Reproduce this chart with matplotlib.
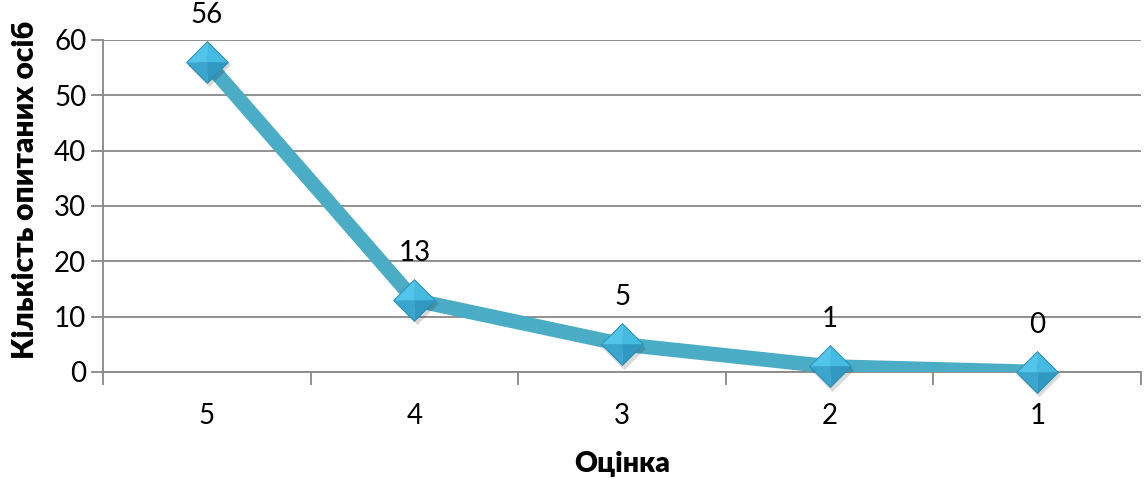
import matplotlib
matplotlib.use("Agg")
import matplotlib.pyplot as plt

categories = ["5", "4", "3", "2", "1"]
values = [56, 13, 5, 1, 0]
yticks = [0, 10, 20, 30, 40, 50, 60]
xlabel = "Оцінка"
ylabel = "Кількість опитаних осіб"

FONT = ["Lato", "Open Sans", "DejaVu Sans"]
plt.rcParams["font.family"] = FONT

fig = plt.figure(figsize=(11.46, 4.79), dpi=100)
ax = fig.add_axes([0.0899, 0.2234, 0.9058, 0.6931])

x = list(range(len(categories)))
ax.plot(x, values, color="#4BACC6", linewidth=10.5, solid_capstyle="round",
        solid_joinstyle="round", zorder=3)

MS = 30
full = [(-1, 0), (0, 1), (1, 0), (0, -1), (-1, 0)]
facets = [
    ([(0, 0), (-1, 0), (0, 1), (0, 0)], "#52C6EA"),
    ([(0, 0), (0, 1), (1, 0), (0, 0)], "#45BBE1"),
    ([(0, 0), (1, 0), (0, -1), (0, 0)], "#3199C1"),
    ([(0, 0), (0, -1), (-1, 0), (0, 0)], "#3AA6CE"),
]
# shadow
ax.plot([xi + 0.01 for xi in x], [v - 0.6 for v in values], linestyle="none",
        marker=full, markersize=MS + 1, markerfacecolor="#000000", alpha=0.15,
        markeredgewidth=0, zorder=4, clip_on=False)
for verts, col in facets:
    ax.plot(x, values, linestyle="none", marker=verts, markersize=MS,
            markerfacecolor=col, markeredgecolor=col, markeredgewidth=0.3,
            zorder=5, clip_on=False)
ax.plot(x, values, linestyle="none", marker=full, markersize=MS,
        markerfacecolor="none", markeredgecolor="#2C8DB2", markeredgewidth=0.7,
        zorder=7, clip_on=False)

for xi, v in zip(x, values):
    ax.annotate(str(v), (xi, v), xytext=(0, 34), textcoords="offset points",
                ha="center", va="center", fontsize=20, color="black", zorder=8)

ax.set_xlim(-0.5, len(categories) - 0.5)
ax.set_ylim(0, 60)
ax.set_yticks(yticks)
ax.set_yticklabels([str(t) for t in yticks])
ax.set_xticks(x)
ax.set_xticklabels(categories)
ax.set_xticks([i - 0.5 for i in range(len(categories) + 1)], minor=True)

ax.tick_params(axis="x", which="major", length=0, pad=22, labelsize=20)
ax.tick_params(axis="x", which="minor", length=9, width=1.3, color="#888888")
ax.tick_params(axis="y", which="major", length=9, width=1.3, color="#888888",
               pad=3, labelsize=20)

ax.yaxis.grid(True, color="#888888", linewidth=1.3)
ax.set_axisbelow(True)
for s in ["top", "right"]:
    ax.spines[s].set_visible(False)
for s in ["left", "bottom"]:
    ax.spines[s].set_color("#888888")
    ax.spines[s].set_linewidth(1.3)

ax.set_xlabel(xlabel, fontsize=20.5, fontweight="heavy", labelpad=16)
ax.set_ylabel(ylabel, fontsize=21.5, fontweight="heavy")
ax.yaxis.set_label_coords(-0.062, 0.55)

fig.savefig("out.png", dpi=100)
